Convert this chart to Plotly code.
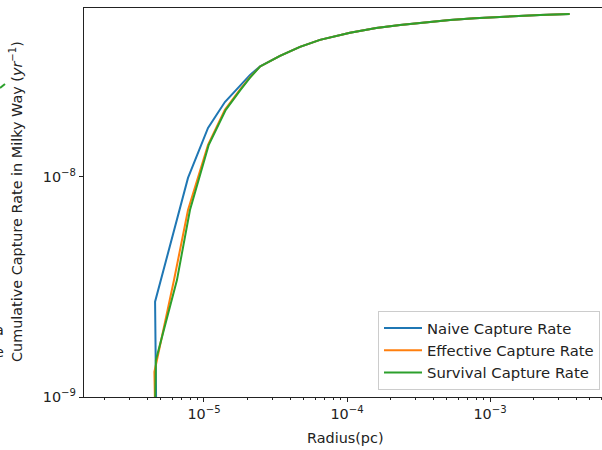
import plotly.graph_objects as go

# ---- data (radius in pc, cumulative capture rate in yr^-1) ----
common_r = [2.47e-5, 3.4e-5, 4.69e-5, 6.47e-5, 1.05e-4, 1.6e-4, 2.35e-4, 3.5e-4, 5.25e-4, 7.8e-4, 1.17e-3, 1.6e-3, 2.24e-3, 3.6e-3]
common_y = [3.18e-8, 3.55e-8, 3.90e-8, 4.20e-8, 4.52e-8, 4.75e-8, 4.91e-8, 5.05e-8, 5.17e-8, 5.26e-8, 5.33e-8, 5.40e-8, 5.45e-8, 5.50e-8]

naive_r = [4.65e-6, 4.62e-6, 4.55e-6, 7.73e-6, 1.067e-5, 1.40e-5, 1.79e-5, 2.1e-5] + common_r
naive_y = [7.0e-10, 1.0e-9, 2.71e-9, 9.9e-9, 1.67e-8, 2.19e-8, 2.59e-8, 2.91e-8] + common_y

eff_r = [4.58e-6, 4.5e-6, 6.17e-6, 7.73e-6, 1.067e-5, 1.40e-5, 1.79e-5, 2.1e-5] + common_r
eff_y = [7.0e-10, 1.30e-9, 3.40e-9, 7.08e-9, 1.40e-8, 2.02e-8, 2.50e-8, 2.84e-8] + common_y

surv_r = [4.52e-6, 4.61e-6, 6.47e-6, 7.98e-6, 1.08e-5, 1.42e-5, 1.80e-5, 2.1e-5] + common_r
surv_y = [7.0e-10, 1.47e-9, 3.40e-9, 7.08e-9, 1.40e-8, 2.02e-8, 2.49e-8, 2.83e-8] + common_y

series_names = ["Naive Capture Rate", "Effective Capture Rate", "Survival Capture Rate"]
colors = ["#1f77b4", "#ff7f0e", "#2ca02c"]

x_tickvals = [1e-5, 1e-4, 1e-3]
x_ticktext = ["10<sup>−5</sup>", "10<sup>−4</sup>", "10<sup>−3</sup>"]
y_tickvals = [1e-9, 1e-8]
y_ticktext = ["10<sup>−9</sup>", "10<sup>−8</sup>"]

W, H = 602, 450
L, R, T, B = 84, 0, 8, 53
pw, ph = W - L - R, H - T - B

def px(x):
    return (x - L) / pw

def py(y):
    return (H - B - y) / ph

FONT = "DejaVu Sans"
FS = 14.4

fig = go.Figure()
for rr, yy, name, c in zip([naive_r, eff_r, surv_r], [naive_y, eff_y, surv_y], series_names, colors):
    fig.add_trace(go.Scatter(x=rr, y=yy, mode="lines", name=name,
                             line=dict(color=c, width=2)))

minor_vals = [k * 10 ** e for e in range(-7, 0) for k in range(2, 10)]

fig.update_layout(
    width=W, height=H,
    margin=dict(l=L, r=R, t=T, b=B),
    paper_bgcolor="white", plot_bgcolor="white",
    font=dict(family=FONT, size=FS, color="#222"),
    showlegend=True,
    legend=dict(x=px(378), y=py(390), xanchor="left", yanchor="bottom",
                bgcolor="rgba(255,255,255,0.8)", bordercolor="#cccccc", borderwidth=1,
                font=dict(size=14.8, color="#222"), tracegroupgap=0, itemwidth=38),
    xaxis=dict(type="log", range=[-5.839, -2.217], showgrid=False, zeroline=False,
               showline=True, linecolor="#222", linewidth=1.3, mirror=True,
               ticks="outside", ticklen=4, tickwidth=1, tickcolor="#222",
               tickvals=x_tickvals, ticktext=x_ticktext,
               minor=dict(tickmode="array", tickvals=minor_vals, ticks="outside", ticklen=2, tickcolor="#222", showgrid=False)),
    yaxis=dict(type="log", range=[-9, -7.232], showgrid=False, zeroline=False,
               showline=True, linecolor="#222", linewidth=1.3, mirror=False,
               ticks="outside", ticklen=4, tickwidth=1, tickcolor="#222",
               tickvals=y_tickvals, ticktext=y_ticktext,
               minor=dict(tickmode="array", tickvals=minor_vals, ticks="outside", ticklen=2, tickcolor="#222", showgrid=False)),
)

fig.add_annotation(text="Radius(pc)", xref="paper", yref="paper", x=px(345), y=py(438),
                   xanchor="center", yanchor="middle", showarrow=False, font=dict(size=FS, color="#222"))
fig.add_annotation(text="Cumulative Capture Rate in Milky Way (<i>yr</i><sup>−1</sup>)", xref="paper", yref="paper",
                   x=px(16), y=py(202), xanchor="center", yanchor="middle", textangle=-90,
                   showarrow=False, font=dict(size=FS, color="#222"))

# fragments of a neighbouring panel visible at the far left
fig.add_shape(type="line", xref="paper", yref="paper", x0=px(0), y0=py(88), x1=px(5), y1=py(84),
              line=dict(color="#2ca02c", width=2))
fig.add_annotation(text="a", xref="paper", yref="paper", x=px(6), y=py(330), xanchor="right", yanchor="middle",
                   showarrow=False, font=dict(size=FS, color="#222"))
fig.add_annotation(text="e", xref="paper", yref="paper", x=px(6), y=py(352), xanchor="right", yanchor="middle",
                   showarrow=False, font=dict(size=FS, color="#222"))

fig.write_html("out.html")
